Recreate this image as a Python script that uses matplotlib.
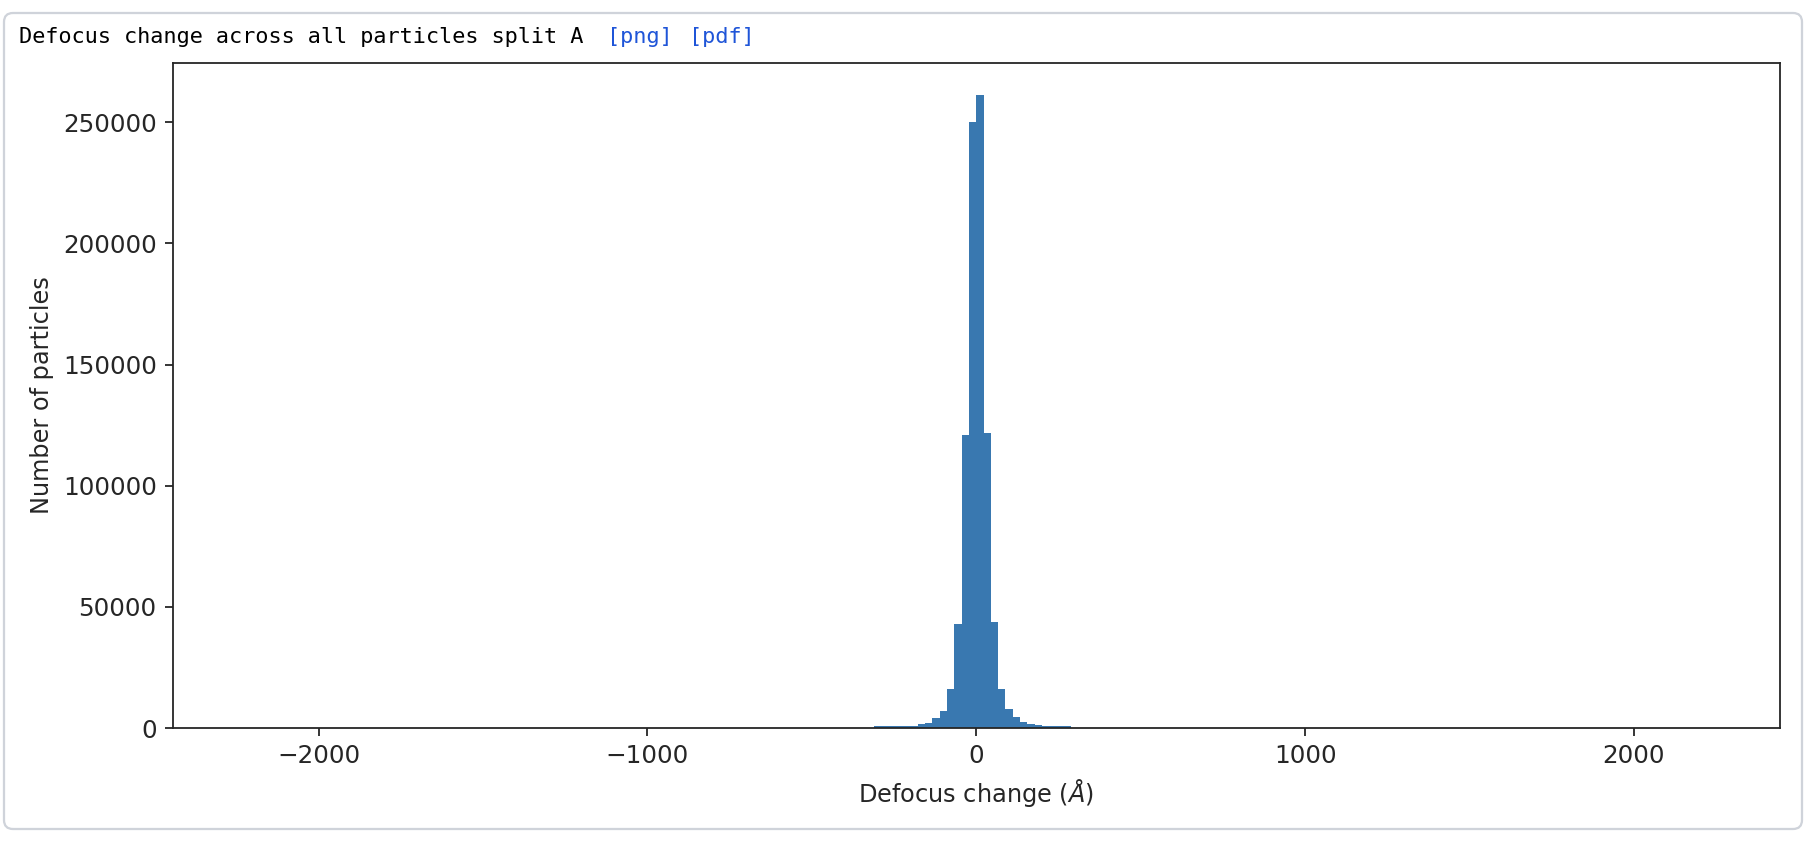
import numpy as np
import matplotlib
matplotlib.use("Agg")
import matplotlib.pyplot as plt
from matplotlib import transforms
from matplotlib.patches import FancyBboxPatch

DPI = 163
W, H = 1806, 842

# histogram range used for the run (200 bins, symmetric)
hist_lo, hist_hi, n_bins = -2222.0, 2222.0, 200

# non-empty bins, counted from the bin that starts at 0
first_bin = -14
counts = [700, 740, 770, 800, 830, 860,
          1500, 2200, 4120, 6850, 16100, 43000, 120800, 250000,
          261400, 121700, 43800, 16100, 7670, 4370, 2300, 1500, 1400,
          850, 800, 760, 720]

title = "Defocus change across all particles split A"
links = ["[png]", "[pdf]"]

edges = np.linspace(hist_lo, hist_hi, n_bins + 1)
all_counts = np.zeros(n_bins)
start = n_bins // 2 + first_bin
all_counts[start:start + len(counts)] = counts

ink = "#262626"
plt.rcParams.update({
    "text.color": ink,
    "axes.labelcolor": ink,
    "axes.edgecolor": ink,
    "xtick.color": ink,
    "ytick.color": ink,
    "xtick.labelsize": 10.9,
    "ytick.labelsize": 10.9,
    "axes.labelsize": 10.6,
})

fig = plt.figure(figsize=(W / DPI, H / DPI), dpi=DPI)

# notebook-ish frame around the figure (drawn behind the axes)
px = transforms.IdentityTransform()
frame = FancyBboxPatch((4, 13), 1798, 816, boxstyle="round,pad=0,rounding_size=9",
                       transform=px, facecolor="none", edgecolor="#cfd3da",
                       linewidth=1.0, zorder=-5)
fig.patches.append(frame)

fig.text(19 / W, 1 - 37 / H, title, family="DejaVu Sans Mono", fontsize=9.7,
         va="center", ha="left", color="black")
fig.text(607 / W, 1 - 37 / H, links[0], family="DejaVu Sans Mono", fontsize=9.7,
         va="center", ha="left", color="#1f55d8")
fig.text(689 / W, 1 - 37 / H, links[1], family="DejaVu Sans Mono", fontsize=9.7,
         va="center", ha="left", color="#1f55d8")

ax = fig.add_axes([172.5 / W, 1 - 728 / H, (1780 - 172.5) / W, (728 - 63) / H])
ax.patch.set_alpha(0)
ax.hist(edges[:-1], bins=edges, weights=all_counts, color="#3978b0")
ax.set_xlabel(r"Defocus change ($\AA$)")
ax.set_ylabel("Number of particles")

fig.savefig("out.png", dpi=DPI)
